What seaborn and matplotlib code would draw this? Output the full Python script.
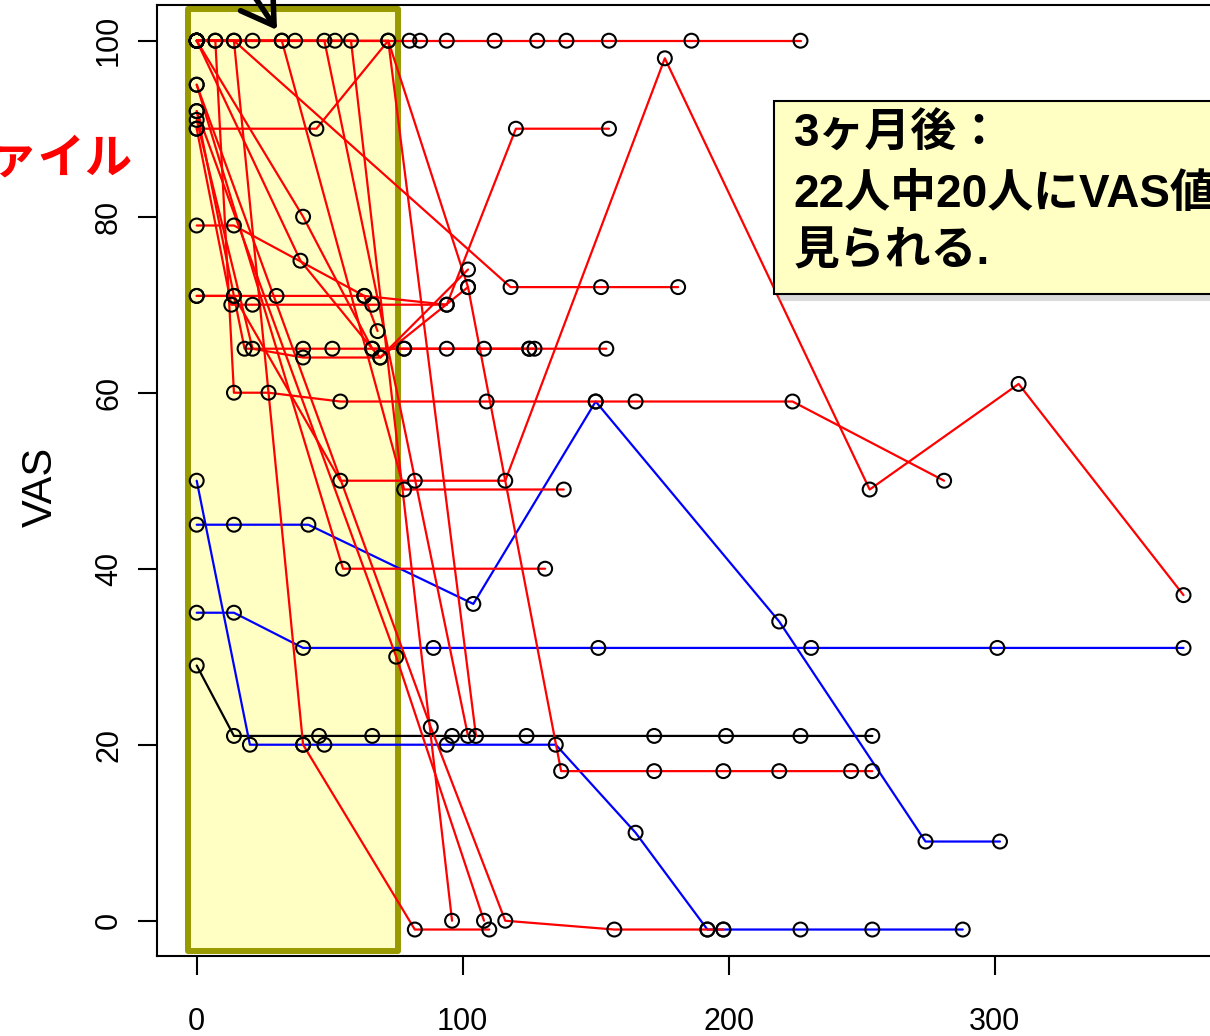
import pandas as pd
import seaborn as sns
import matplotlib.pyplot as plt
from matplotlib.patches import Rectangle, FancyArrowPatch

# 患者ごとの経過 (日数, VAS)
red_days = [
    [0, 14, 40, 82, 110],
    [0, 14, 118, 152, 181],
    [0, 45, 72, 102, 137, 172, 198, 219, 246, 254],
    [0, 14, 54, 82, 116, 176, 253, 309, 371],
    [0, 32, 78, 138],
    [0, 55, 131],
    [0, 7, 14, 27, 54, 109, 150, 165, 224, 281],
    [0, 18, 40, 51, 78, 94, 108, 125, 154],
    [0, 21, 40, 69, 102],
    [0, 13, 21, 66, 94, 120, 155],
    [0, 14, 30, 63, 68],
    [0, 14, 63, 94],
    [0, 39, 66, 78, 125, 127],
    [0, 75, 108],
    [0, 88, 116, 157, 192, 198],
    [0, 21, 48, 102],
    [0, 37, 58, 96],
    [0, 52, 72, 105],
    [0, 7, 32, 80, 84, 94, 112, 128, 139, 155, 186, 227],
    [0, 40, 66, 69, 102],
]
red_vas = [
    [100, 100, 20, -1, -1],
    [100, 100, 72, 72, 72],
    [90, 90, 100, 72, 17, 17, 17, 17, 17, 17],
    [71, 71, 50, 50, 50, 98, 49, 61, 37],
    [100, 100, 49, 49],
    [95, 40, 40],
    [100, 100, 60, 60, 59, 59, 59, 59, 59, 50],
    [92, 65, 65, 65, 65, 65, 65, 65, 65],
    [91, 65, 64, 64, 74],
    [90, 70, 70, 70, 70, 90, 90],
    [71, 71, 71, 71, 67],
    [79, 79, 71, 70],
    [100, 75, 65, 65, 65, 65],
    [92, 30, 0],
    [95, 22, 0, -1, -1, -1],
    [100, 100, 100, 21],
    [100, 100, 100, 0],
    [100, 100, 100, 21],
    [100, 100, 100, 100, 100, 100, 100, 100, 100, 100, 100, 100],
    [100, 80, 65, 64, 72],
]
blue_days = [
    [0, 20, 40, 48, 94, 135, 165, 192, 198, 227, 254, 288],
    [0, 14, 42, 104, 150, 219, 274, 302],
    [0, 14, 40, 89, 151, 231, 301, 371],
]
blue_vas = [
    [50, 20, 20, 20, 20, 20, 10, -1, -1, -1, -1, -1],
    [45, 45, 45, 36, 59, 34, 9, 9],
    [35, 35, 31, 31, 31, 31, 31, 31],
]
black_days = [[0, 14, 46, 66, 96, 124, 172, 199, 227, 254]]
black_vas = [[29, 21, 21, 21, 21, 21, 21, 21, 21, 21]]

x_ticks = [0, 100, 200, 300]
y_ticks = [0, 20, 40, 60, 80, 100]
early_period = (-3.3, 75.5)   # 黄色の枠 (日数)

note_lines = ["3ヶ月後：", "22人中20人にVAS値の改善が", "見られる."]
side_label = "VASプロファイル"


def build_frame():
    rows = []
    pid = 0
    groups = [("black", black_days, black_vas),
              ("blue", blue_days, blue_vas),
              ("red", red_days, red_vas)]
    for grp, days_list, vas_list in groups:
        for days, vas in zip(days_list, vas_list):
            for d, v in zip(days, vas):
                rows.append((pid, grp, d, v))
            pid += 1
    return pd.DataFrame(rows, columns=["pid", "grp", "day", "vas"])


df = build_frame()

sns.set_theme(style="ticks")
plt.rcParams["font.family"] = ["Liberation Sans", "Noto Sans CJK JP"]

fig = plt.figure(figsize=(12.1, 10.36), dpi=100)
ax = fig.add_axes([0.1295, 0.0772, 0.8794, 0.918])

# 黄色の枠 (初期3ヶ月)
ax.add_patch(Rectangle((early_period[0], -3.44), early_period[1] - early_period[0], 107.0,
                       facecolor="#FFFFC4", edgecolor="#999900", linewidth=4.3,
                       joinstyle="round", zorder=0.5))

palette = {"black": "black", "blue": "#0000FF", "red": "#FF0000"}
sns.lineplot(data=df, x="day", y="vas", units="pid", estimator=None, hue="grp",
             hue_order=["black", "blue", "red"], palette=palette, sort=False,
             legend=False, linewidth=1.6, ax=ax, zorder=2)
sns.scatterplot(data=df, x="day", y="vas", marker="o", s=100, facecolors="none",
                edgecolors="black", linewidth=1.5, legend=False, ax=ax, zorder=3)

ax.set_xlim(-15.04, 385)
ax.set_ylim(-4.01, 104.06)
ax.set_xticks(x_ticks)
ax.set_yticks(y_ticks)
ax.set_xlabel("")
ax.set_ylabel("VAS", fontsize=30, color="black")
ax.yaxis.set_label_coords(-0.09, 0.493)

ax.tick_params(axis="both", direction="out", length=13.5, width=1.5,
               labelsize=22, colors="black")
ax.tick_params(axis="x", pad=23)
ax.tick_params(axis="y", pad=10)
for lab in ax.get_yticklabels():
    lab.set_rotation(90)
    lab.set_va("center")
for sp in ax.spines.values():
    sp.set_linewidth(1.5)
    sp.set_color("black")

# 吹き出し
fig.add_artist(Rectangle((0.6430, 0.7094), 0.5, 0.1863, transform=fig.transFigure,
                         facecolor="#888888", alpha=0.3, edgecolor="none"))
fig.add_artist(Rectangle((0.6397, 0.7162), 0.5, 0.1863, transform=fig.transFigure,
                         facecolor="#FFFFC4", edgecolor="black", linewidth=1.5))
for yy, line in zip([0.8700, 0.8110, 0.7560], note_lines):
    fig.text(0.656, yy, line, ha="left", va="center", fontsize=33,
             fontweight="bold", color="black")

fig.text(0.1095, 0.8456, side_label, ha="right", va="center", fontsize=34,
         fontweight="bold", color="#FF0000")

fig.add_artist(FancyArrowPatch((240 / 1210, 1 + 25 / 1036), (277 / 1210, 1 - 30 / 1036),
                               transform=fig.transFigure,
                               arrowstyle="->,head_length=0.8,head_width=0.5",
                               mutation_scale=28, lw=4, color="black",
                               shrinkA=0, shrinkB=0))

fig.savefig("out.png", dpi=100)
